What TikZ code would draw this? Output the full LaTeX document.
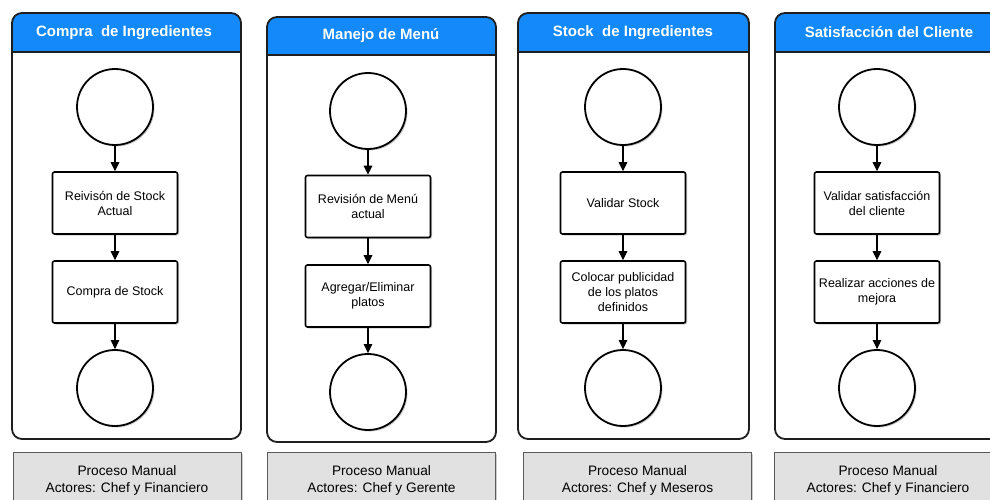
\documentclass[tikz,border=0pt]{standalone}
\usepackage{fontspec}
\setmainfont{Liberation Sans}
\usetikzlibrary{arrows.meta, shadows}
\definecolor{headblue}{RGB}{20,138,250}
\definecolor{footgray}{RGB}{225,225,225}
\definecolor{linegray}{RGB}{30,30,30}
\begin{document}
\begin{tikzpicture}[
        x = 1pt, y = -1pt,
        lane/.style = {draw = linegray, line width = 1.8pt, rounded corners = 10pt},
        headtext/.style = {text = white, font = \bfseries\fontsize{15}{18}\selectfont},
        softshadow/.style = {drop shadow = {shadow xshift = 1.5pt, shadow yshift = -1.5pt, opacity = .2, fill = black}},
        startend/.style = {circle, draw = black, line width = 1.8pt, fill = white, minimum size = 76pt, inner sep = 0pt, softshadow},
        task/.style = {rectangle, draw = black, line width = 1.6pt, rounded corners = 2pt, fill = white,
                       minimum width = 125pt, minimum height = 62pt, align = center,
                       font = \fontsize{12.5}{15}\selectfont, softshadow},
        footer/.style = {rectangle, draw = black!65, line width = .8pt, fill = footgray, anchor = north,
                         minimum width = 228pt, minimum height = 57pt, align = center,
                         font = \fontsize{13.7}{17}\selectfont, softshadow},
        flow/.style = {-{Triangle[length = 9pt, width = 8.5pt]}, line width = 1.2pt}
      ]
      \useasboundingbox (0, 0) rectangle (990, 500);
      \clip (0, 0) rectangle (990, 500);
      % lanes
      \begin{scope}
        \clip[rounded corners = 10pt] (12, 13) rectangle (241, 439);
        \fill[headblue] (12, 13) rectangle (241, 52);
      \end{scope}
      \draw[lane] (12, 13) rectangle (241, 439);
      \draw[linegray, line width = 1.8pt] (12, 52) -- (241, 52);
      \begin{scope}
        \clip[rounded corners = 10pt] (267, 17) rectangle (496, 442);
        \fill[headblue] (267, 17) rectangle (496, 55);
      \end{scope}
      \draw[lane] (267, 17) rectangle (496, 442);
      \draw[linegray, line width = 1.8pt] (267, 55) -- (496, 55);
      \begin{scope}
        \clip[rounded corners = 10pt] (518, 13) rectangle (749, 439);
        \fill[headblue] (518, 13) rectangle (749, 52);
      \end{scope}
      \draw[lane] (518, 13) rectangle (749, 439);
      \draw[linegray, line width = 1.8pt] (518, 52) -- (749, 52);
      \begin{scope}
        \clip[rounded corners = 10pt] (775, 13) rectangle (1004, 439);
        \fill[headblue] (775, 13) rectangle (1004, 52);
      \end{scope}
      \draw[lane] (775, 13) rectangle (1004, 439);
      \draw[linegray, line width = 1.8pt] (775, 52) -- (1004, 52);
      % titles
      \node[headtext] (title1) at (124, 32.5) {Compra\ \ de Ingredientes};
      \node[headtext] (title2) at (381, 36)   {Manejo de Menú};
      \node[headtext] (title3) at (633, 32.5) {Stock\ \ de Ingredientes};
      \node[headtext] (title4) at (889, 32.5) {Satisfacción del Cliente};
      % nodes
      \node[startend] (start1) at (115, 107)   {};
      \node[task]     (rev1)   at (115, 203)   {Reivisón de Stock\\Actual};
      \node[task]     (buy1)   at (115, 292)   {Compra de Stock};
      \node[startend] (end1)   at (115, 388)   {};
      \node[startend] (start2) at (368, 111)   {};
      \node[task]     (rev2)   at (368, 206.5) {Revisión de Menú\\actual};
      \node[task]     (edit2)  at (368, 296)   {Agregar/Eliminar\\platos};
      \node[startend] (end2)   at (368, 392)   {};
      \node[startend] (start3) at (623, 107)   {};
      \node[task]     (val3)   at (623, 203)   {Validar Stock};
      \node[task]     (ads3)   at (623, 292)   {Colocar publicidad\\de los platos\\definidos};
      \node[startend] (end3)   at (623, 388)   {};
      \node[startend] (start4) at (877, 107)   {};
      \node[task]     (val4)   at (877, 203)   {Validar satisfacción\\del cliente};
      \node[task]     (act4)   at (877, 292)   {Realizar acciones de\\mejora};
      \node[startend] (end4)   at (877, 388)   {};
      % footers
      \node[footer] (foot1) at (127, 452)   {Proceso Manual\\Actores: Chef y Financiero};
      \node[footer] (foot2) at (381.5, 452) {Proceso Manual\\Actores: Chef y Gerente};
      \node[footer] (foot3) at (637.5, 452) {Proceso Manual\\Actores: Chef y Meseros};
      \node[footer] (foot4) at (888, 452)   {Proceso Manual\\Actores: Chef y Financiero};
      % flows
      \draw[flow] (start1) -- (rev1);
      \draw[flow] (rev1)   -- (buy1);
      \draw[flow] (buy1)   -- (end1);
      \draw[flow] (start2) -- (rev2);
      \draw[flow] (rev2)   -- (edit2);
      \draw[flow] (edit2)  -- (end2);
      \draw[flow] (start3) -- (val3);
      \draw[flow] (val3)   -- (ads3);
      \draw[flow] (ads3)   -- (end3);
      \draw[flow] (start4) -- (val4);
      \draw[flow] (val4)   -- (act4);
      \draw[flow] (act4)   -- (end4);
    \end{tikzpicture}
\end{document}
